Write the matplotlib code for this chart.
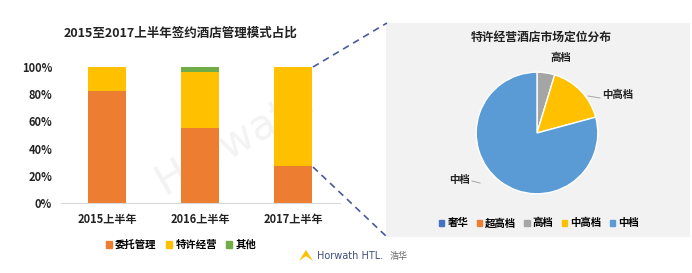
import matplotlib.pyplot as plt
from matplotlib.patches import Patch, Rectangle, Polygon
from matplotlib.lines import Line2D

plt.rcParams['font.family'] = ['Noto Sans CJK SC', 'DejaVu Sans']

# bar chart data
periods = ['2015上半年', '2016上半年', '2017上半年']
entrusted = [0.82, 0.555, 0.275]
franchise = [0.18, 0.405, 0.725]
other = [0.0, 0.04, 0.0]
bar_series = ['委托管理', '特许经营', '其他']
yticks = [0, 0.2, 0.4, 0.6, 0.8, 1.0]
ytick_labels = ['0%', '20%', '40%', '60%', '80%', '100%']

# pie data (clockwise from top)
pie_cats = ['奢华', '超高档', '高档', '中高档', '中档']
pie_vals = [0.0, 0.0, 4.7, 16.1, 79.2]

orange = '#ED7D31'
yellow = '#FFC000'
green = '#70AD47'
blue = '#5B9BD5'
gray = '#A5A5A5'
pie_colors = ['#4472C4', orange, gray, yellow, blue]

W, H = 692, 273
fig = plt.figure(figsize=(W / 100, H / 100), dpi=100)


def fx(px):
    return px / W


def fy(py):
    return 1 - py / H


# pie panel background
fig.patches.append(Rectangle((fx(386), fy(237)), fx(690) - fx(386), fy(23) - fy(237),
                             transform=fig.transFigure, facecolor='#F2F2F2',
                             edgecolor='none', zorder=-2))

# watermark
fig.text(fx(235), fy(140), 'Horwath', rotation=30, fontsize=30, color='#F3F3F3',
         ha='center', va='center', zorder=-1, family='DejaVu Sans')

# bar chart
ax = fig.add_axes([fx(60.5), fy(203), fx(339.5) - fx(60.5), fy(67) - fy(203)])
x = range(len(periods))
ax.bar(x, entrusted, 0.4, color=orange, label=bar_series[0])
ax.bar(x, franchise, 0.4, bottom=entrusted, color=yellow, label=bar_series[1])
bottoms = [a + b for a, b in zip(entrusted, franchise)]
ax.bar(x, other, 0.4, bottom=bottoms, color=green, label=bar_series[2])
ax.set_xlim(-0.5, 2.5)
ax.set_ylim(0, 1.0)
ax.set_yticks(yticks)
ax.set_yticklabels(ytick_labels, fontsize=8, fontweight='bold', color='#222222')
ax.set_xticks(list(x))
ax.set_xticklabels(periods, fontsize=8, fontweight='bold', color='#222222')
ax.tick_params(length=0, pad=6)
ax.tick_params(axis='x', pad=7)
for s in ['top', 'right', 'left']:
    ax.spines[s].set_visible(False)
ax.spines['bottom'].set_color('#D9D9D9')
ax.set_facecolor('none')
for t in ax.patches:
    t.set_clip_on(False)

fig.text(fx(180), fy(33), '2015至2017上半年签约酒店管理模式占比', ha='center', va='center',
         fontsize=9, fontweight='bold', color='#222222')

handles = [Patch(color=c) for c in [orange, yellow, green]]
fig.legend(handles, bar_series, loc='center', bbox_to_anchor=(fx(181), fy(245)), ncol=3,
           frameon=False, handlelength=0.6, handleheight=0.6, handletextpad=0.3,
           columnspacing=0.9, prop={'size': 7.5, 'weight': 'bold'})

# pie chart
pax = fig.add_axes([fx(475), fy(195), 124 / W, 124 / H])
pax.set_facecolor('none')
wedges, _ = pax.pie(pie_vals, colors=pie_colors, startangle=90, counterclock=False,
                    wedgeprops={'edgecolor': 'white', 'linewidth': 1})
pax.set_xlim(-1.02, 1.02)
pax.set_ylim(-1.02, 1.02)
pax.set_aspect('auto')
pax.axis('off')

fig.text(fx(541), fy(37), '特许经营酒店市场定位分布', ha='center', va='center',
         fontsize=8.5, fontweight='bold', color='#222222')
fig.text(fx(561), fy(58), '高档', ha='center', va='center', fontsize=7.5,
         fontweight='bold', color='#222222')
fig.text(fx(602), fy(95), '中高档', ha='left', va='center', fontsize=7.5,
         fontweight='bold', color='#222222')
fig.text(fx(470), fy(180), '中档', ha='right', va='center', fontsize=7.5,
         fontweight='bold', color='#222222')
fig.lines.append(Line2D([fx(588), fx(600)], [fy(96), fy(98)], transform=fig.transFigure,
                        color='#A6A6A6', linewidth=0.7))
fig.lines.append(Line2D([fx(472), fx(480)], [fy(181), fy(183)], transform=fig.transFigure,
                        color='#A6A6A6', linewidth=0.7))

pie_handles = [Patch(color=c) for c in pie_colors]
fig.legend(pie_handles, pie_cats, loc='center', bbox_to_anchor=(fx(539), fy(223)), ncol=5,
           frameon=False, handlelength=0.5, handleheight=0.5, handletextpad=0.3,
           columnspacing=0.8, prop={'size': 7.5, 'weight': 'bold'})

# dashed connectors
fig.lines.append(Line2D([fx(313), fx(387)], [fy(67), fy(23)], transform=fig.transFigure,
                        color='#4A5A9A', linewidth=1.2, linestyle=(0, (4, 3))))
fig.lines.append(Line2D([fx(313), fx(387)], [fy(167), fy(237)], transform=fig.transFigure,
                        color='#4A5A9A', linewidth=1.2, linestyle=(0, (4, 3))))

# footer logo
fig.patches.append(Polygon([[fx(299), fy(261)], [fx(306), fy(250)], [fx(313), fy(261)],
                            [fx(306), fy(256)]], closed=True, transform=fig.transFigure,
                           facecolor=yellow, edgecolor='none'))
fig.text(fx(317), fy(256), 'Horwath HTL.', ha='left', va='center', fontsize=7,
         color='#3F4F7F', family='DejaVu Sans')
fig.text(fx(390), fy(256), '浩华', ha='left', va='center', fontsize=6.5, color='#666666')

fig.savefig('out.png', dpi=100)
